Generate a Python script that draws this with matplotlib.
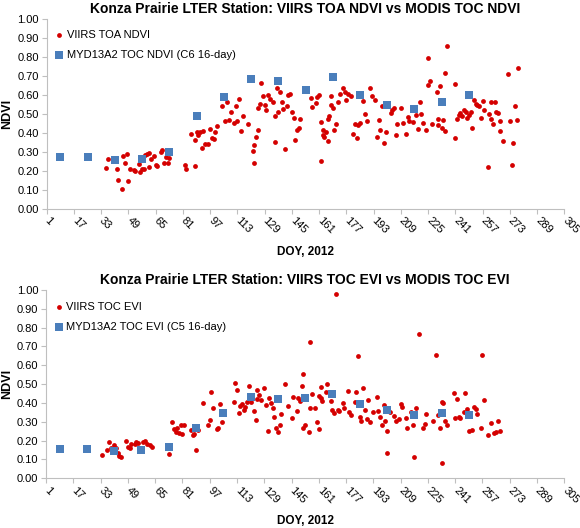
#! /bin/env python

import numpy as np
import matplotlib
matplotlib.use('Agg')
import matplotlib.pyplot as plt

# VIIRS TOA NDVI (daily), Konza Prairie 2012
doy_viirs_ndvi = [36, 37, 42, 43, 45, 46, 48, 47, 49, 50, 52, 53, 55, 56, 57, 58, 59, 60, 61, 62,
                  61, 64, 65, 66, 68, 69, 70, 71, 72, 73, 82, 83, 88, 86, 89, 88, 90, 91, 93, 92,
                  94, 96, 97, 98, 99, 100, 101, 104, 107, 109, 111, 112, 114, 116, 115, 113, 108, 106, 119, 122,
                  123, 123, 124, 125, 127, 128, 125, 126, 129, 130, 131, 132, 134, 135, 136, 137, 138, 139, 140, 135,
                  141, 142, 143, 144, 145, 146, 147, 148, 149, 150, 156, 157, 159, 160, 161, 162, 163, 163, 164, 162,
                  165, 166, 166, 167, 168, 169, 168, 170, 171, 172, 173, 175, 176, 177, 178, 180, 181, 182, 183, 184,
                  185, 187, 188, 189, 191, 192, 194, 195, 196, 197, 198, 199, 200, 203, 204, 205, 206, 207, 209, 210,
                  212, 213, 214, 216, 218, 219, 220, 221, 222, 224, 225, 226, 225, 227, 230, 231, 232, 231, 233, 234,
                  235, 235, 236, 241, 241, 242, 243, 244, 245, 246, 247, 248, 249, 250, 251, 252, 253, 254, 255, 256,
                  257, 258, 260, 261, 262, 263, 264, 266, 267, 262, 265, 267, 269, 272, 273, 274, 275, 276, 277, 278]
ndvi_viirs = [.216, .262, .209, .153, .104, .276, .290, .242, .148, .209, .205, .198, .235, .195, .207, .211, .283, .290, .293, .262,
              .221, .276, .230, .226, .300, .307, .239, .272, .239, .269, .230, .209, .223, .395, .402, .360, .388, .402, .409, .321,
              .342, .342, .421, .370, .367, .402, .435, .542, .560, .507, .451, .542, .577, .490, .409, .462, .465, .462, .444, .304,
              .241, .335, .377, .416, .662, .591, .528, .551, .546, .518, .598, .579, .563, .490, .637, .511, .616, .560, .525, .349,
              .314, .542, .598, .605, .507, .476, .360, .414, .426, .472, .581, .537, .555, .590, .598, .455, .414, .388, .379, .253,
              .405, .358, .472, .490, .593, .528, .546, .412, .444, .560, .602, .633, .616, .572, .602, .595, .395, .446, .370, .441,
              .449, .567, .497, .462, .637, .593, .572, .379, .469, .414, .542, .348, .402, .502, .519, .531, .388, .448, .532, .449,
              .391, .484, .462, .455, .493, .419, .560, .497, .449, .414, .651, .672, .795, .444, .616, .472, .648, .441, .423, .467,
              .409, .716, .858, .655, .370, .472, .493, .502, .490, .519, .511, .476, .493, .507, .426, .572, .549, .546, .542, .476,
              .567, .519, .218, .497, .560, .444, .563, .502, .409, .470, .511, .463, .358, .709, .463, .228, .344, .542, .467, .740]

# MYD13A2 16-day composites
doy_modis = [9, 25, 41, 57, 73, 89, 105, 121, 137, 153, 169, 185, 201, 217, 233, 249]
ndvi_modis = [.270, .272, .256, .262, .300, .486, .586, .681, .672, .625, .693, .598, .544, .525, .560, .597]
evi_modis = [.157, .157, .143, .152, .165, .267, .345, .433, .421, .425, .446, .395, .363, .336, .345, .336]

# VIIRS TOC EVI (daily)
doy_viirs_evi = [34, 37, 38, 39, 41, 42, 43, 44, 45, 48, 49, 50, 51, 53, 54, 55, 58, 59, 60, 62,
                 63, 73, 75, 76, 77, 78, 80, 79, 82, 81, 86, 87, 89, 88, 90, 93, 96, 97, 98, 99,
                 101, 102, 103, 104, 104, 111, 112, 113, 114, 115, 116, 117, 118, 119, 120, 121, 123, 124, 125, 125,
                 126, 127, 129, 130, 131, 132, 133, 134, 135, 136, 137, 138, 139, 141, 143, 145, 146, 148, 149, 152,
                 151, 150, 153, 152, 155, 156, 156, 157, 159, 160, 161, 162, 161, 162, 163, 165, 166, 168, 169, 170,
                 172, 171, 173, 175, 176, 178, 179, 180, 182, 183, 184, 185, 186, 187, 188, 189, 190, 191, 193, 195,
                 196, 197, 198, 199, 200, 201, 201, 203, 205, 206, 208, 209, 210, 212, 213, 215, 216, 217, 218, 220,
                 222, 223, 224, 228, 230, 231, 232, 233, 233, 234, 235, 236, 240, 241, 242, 243, 244, 246, 247, 248,
                 249, 251, 252, 253, 254, 256, 257, 258, 260, 262, 265, 266, 267, 264]
evi_viirs = [.124, .152, .195, .159, .177, .163, .133, .120, .115, .198, .166, .159, .180, .180, .195, .186, .195, .200, .184, .177,
             .168, .131, .301, .262, .248, .269, .283, .239, .283, .235, .255, .230, .152, .233, .255, .400, .283, .310, .460, .375,
             .262, .265, .393, .358, .301, .403, .506, .469, .345, .386, .397, .363, .381, .407, .492, .407, .358, .310, .421, .469,
             .442, .416, .478, .389, .251, .425, .398, .375, .327, .269, .244, .283, .340, .503, .386, .322, .432, .358, .428, .552,
             .492, .411, .283, .265, .248, .372, .726, .450, .375, .301, .262, .487, .439, .425, .411, .457, .499, .411, .363, .345,
             .363, .977, .357, .398, .375, .464, .354, .336, .407, .457, .651, .327, .304, .481, .363, .315, .416, .297, .350, .434,
             .358, .327, .283, .389, .304, .251, .136, .354, .333, .304, .315, .393, .381, .318, .265, .350, .283, .111, .372, .765,
             .265, .287, .340, .304, .655, .336, .269, .407, .083, .398, .304, .283, .451, .322, .421, .327, .318, .354, .451, .368,
             .251, .256, .380, .368, .340, .265, .655, .416, .230, .292, .248, .304, .251, .239]

xticks = list(range(1, 306, 16))
yticks = [i / 10 for i in range(11)]

red = '#d40000'
blue = '#4a7ebb'
grey = '#bfbfbf'

plt.rcParams['font.family'] = ['Liberation Sans', 'DejaVu Sans']


def panel(ax, title, x1, y1, lab1, x2, y2, lab2):
    ax.scatter(x1, y1, s=12, color=red, linewidths=0, label=lab1, zorder=2)
    ax.scatter(x2, y2, s=26, marker='s', color=blue, linewidths=0, label=lab2, zorder=3)
    ax.set_xlim(1, 305)
    ax.set_ylim(0, 1)
    ax.set_xticks(xticks)
    ax.set_yticks(yticks)
    ax.set_yticklabels(['%.2f' % v for v in yticks], fontsize=8)
    ax.set_xticklabels([str(v) for v in xticks], fontsize=8, rotation=-45,
                       ha='left', va='center', rotation_mode='anchor')
    for s in ['top', 'right']:
        ax.spines[s].set_visible(False)
    for s in ['left', 'bottom']:
        ax.spines[s].set_color(grey)
        ax.spines[s].set_linewidth(0.8)
    ax.tick_params(axis='both', color=grey, length=3.5, width=0.8, pad=2)
    ax.tick_params(axis='x', pad=4)
    ax.set_title(title, fontsize=10, fontweight='bold', pad=4)
    ax.set_ylabel('NDVI', fontsize=9, fontweight='bold', labelpad=3)
    ax.set_xlabel('DOY, 2012', fontsize=8.5, fontweight='bold', labelpad=7)
    ax.legend(loc='upper left', bbox_to_anchor=(0.0, 0.98), frameon=False, fontsize=8,
              handlelength=0.9, handletextpad=0.2, labelspacing=0.9, borderaxespad=0.3,
              scatterpoints=1)


def main():
    fig = plt.figure(figsize=(5.8, 5.28), dpi=100)
    ax1 = fig.add_axes([0.0805, 0.6047, 0.8925, 0.3599])
    ax2 = fig.add_axes([0.0793, 0.0941, 0.8937, 0.3567])

    panel(ax1, 'Konza Prairie LTER Station: VIIRS TOA NDVI vs MODIS TOC NDVI',
          doy_viirs_ndvi, ndvi_viirs, 'VIIRS TOA NDVI',
          doy_modis, ndvi_modis, 'MYD13A2 TOC NDVI (C6 16-day)')
    panel(ax2, 'Konza Prairie LTER Station: VIIRS TOC EVI vs MODIS TOC EVI',
          doy_viirs_evi, evi_viirs, 'VIIRS TOC EVI',
          doy_modis, evi_modis, 'MYD13A2 TOC EVI (C5 16-day)')

    fig.savefig('out.png', dpi=100)


if __name__ == "__main__":
    main()
